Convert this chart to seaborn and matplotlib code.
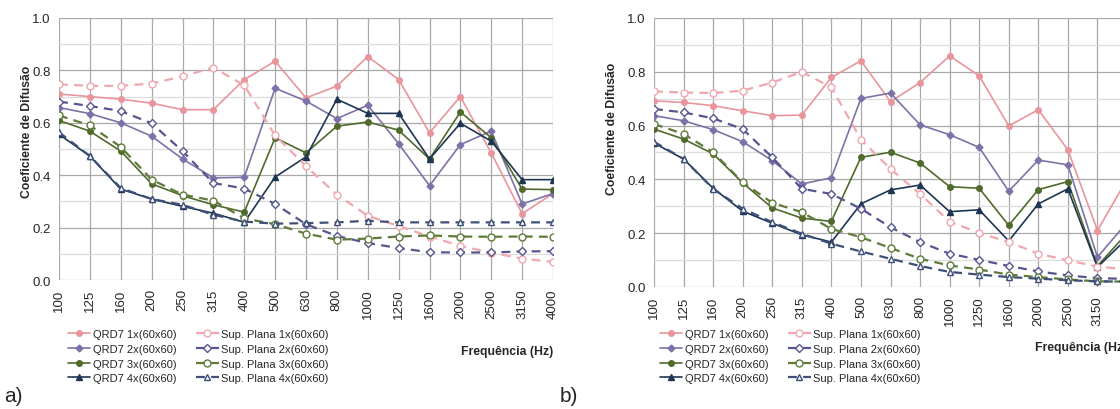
import numpy as np
import matplotlib.pyplot as plt
import seaborn as sns
from matplotlib.ticker import MultipleLocator

# Frequencies (third-octave bands)
freqs = ["100", "125", "160", "200", "250", "315", "400", "500", "630", "800",
         "1000", "1250", "1600", "2000", "2500", "3150", "4000"]

labels = ["QRD7 1x(60x60)", "QRD7 2x(60x60)", "QRD7 3x(60x60)", "QRD7 4x(60x60)",
          "Sup. Plana 1x(60x60)", "Sup. Plana 2x(60x60)", "Sup. Plana 3x(60x60)", "Sup. Plana 4x(60x60)"]

# panel a)
a_qrd1 = [0.71, 0.70, 0.69, 0.675, 0.65, 0.65, 0.765, 0.835, 0.695, 0.74, 0.853, 0.765, 0.562, 0.70, 0.485, 0.253, 0.33]
a_qrd2 = [0.658, 0.635, 0.60, 0.549, 0.462, 0.39, 0.392, 0.732, 0.683, 0.616, 0.667, 0.52, 0.36, 0.517, 0.568, 0.29, 0.33]
a_qrd3 = [0.609, 0.568, 0.492, 0.367, 0.322, 0.287, 0.259, 0.543, 0.485, 0.587, 0.603, 0.572, 0.462, 0.641, 0.543, 0.347, 0.345]
a_qrd4 = [0.556, 0.473, 0.347, 0.309, 0.281, 0.255, 0.22, 0.393, 0.47, 0.69, 0.636, 0.636, 0.462, 0.598, 0.53, 0.383, 0.383]
a_sup1 = [0.747, 0.741, 0.741, 0.75, 0.777, 0.811, 0.743, 0.552, 0.434, 0.326, 0.245, 0.206, 0.166, 0.13, 0.104, 0.082, 0.069]
a_sup2 = [0.681, 0.664, 0.645, 0.598, 0.492, 0.37, 0.349, 0.29, 0.213, 0.168, 0.141, 0.122, 0.106, 0.105, 0.105, 0.109, 0.11]
a_sup3 = [0.628, 0.59, 0.508, 0.383, 0.326, 0.303, 0.235, 0.213, 0.177, 0.154, 0.158, 0.166, 0.17, 0.166, 0.165, 0.166, 0.165]
a_sup4 = [0.564, 0.473, 0.351, 0.309, 0.287, 0.249, 0.223, 0.215, 0.217, 0.22, 0.226, 0.22, 0.22, 0.22, 0.22, 0.22, 0.22]

# panel b)
b_qrd1 = [0.692, 0.686, 0.674, 0.655, 0.637, 0.639, 0.779, 0.841, 0.689, 0.76, 0.859, 0.785, 0.599, 0.659, 0.51, 0.21, 0.40]
b_qrd2 = [0.637, 0.618, 0.585, 0.54, 0.47, 0.383, 0.406, 0.701, 0.721, 0.603, 0.566, 0.519, 0.356, 0.472, 0.454, 0.111, 0.24]
b_qrd3 = [0.587, 0.55, 0.495, 0.387, 0.294, 0.256, 0.244, 0.482, 0.501, 0.461, 0.373, 0.367, 0.229, 0.362, 0.392, 0.078, 0.20]
b_qrd4 = [0.535, 0.476, 0.367, 0.282, 0.237, 0.194, 0.167, 0.309, 0.361, 0.379, 0.28, 0.287, 0.171, 0.309, 0.365, 0.074, 0.18]
b_sup1 = [0.727, 0.723, 0.721, 0.73, 0.76, 0.80, 0.742, 0.548, 0.439, 0.346, 0.243, 0.201, 0.167, 0.124, 0.099, 0.076, 0.065]
b_sup2 = [0.662, 0.649, 0.627, 0.587, 0.482, 0.365, 0.346, 0.291, 0.222, 0.167, 0.124, 0.101, 0.078, 0.058, 0.043, 0.033, 0.03]
b_sup3 = [0.606, 0.569, 0.501, 0.389, 0.313, 0.278, 0.216, 0.185, 0.145, 0.105, 0.08, 0.065, 0.046, 0.037, 0.028, 0.021, 0.02]
b_sup4 = [0.54, 0.476, 0.365, 0.291, 0.241, 0.198, 0.161, 0.132, 0.105, 0.078, 0.056, 0.046, 0.037, 0.031, 0.025, 0.021, 0.02]

# color, marker, dashed, open marker
styles = [
    ("#E8959C", "o", False, False),
    ("#7D72A8", "D", False, False),
    ("#4F6A2C", "o", False, False),
    ("#1E3553", "^", False, False),
    ("#F0A8AE", "o", True, True),
    ("#55558F", "D", True, True),
    ("#5E7B3A", "o", True, True),
    ("#3E4F78", "^", True, True),
]

sns.set_style("white")
plt.rcParams['font.family'] = ['Liberation Sans', 'DejaVu Sans']

fig = plt.figure(figsize=(11.2, 4.1), dpi=100)
ax_a = fig.add_axes([59 / 1120, 1 - 281 / 410, 494 / 1120, 262 / 410])
# panel b runs past the right edge, as in the source image
ax_b = fig.add_axes([654 / 1120, 1 - 288 / 410, 473 / 1120, 269 / 410])


def draw(ax, series, ylab_x, ylab_y, xlab_y, leg_x):
    x = np.arange(len(freqs))
    for lab, vals, (color, marker, dashed, hollow) in zip(labels, series, styles):
        ms = 4 if marker != "D" else 3.5
        if hollow:
            ms = 5 if marker == "o" else 4
        sns.lineplot(x=x, y=vals, ax=ax, color=color, marker=marker,
                     linestyle=(0, (4, 2.8)) if dashed else "-",
                     lw=1.6 if dashed else 1.2, markersize=ms,
                     markeredgecolor=color, markeredgewidth=1,
                     markerfacecolor="white" if hollow else color,
                     label=lab)
    ax.set_xlim(0, len(freqs) - 1)
    ax.set_ylim(0, 1.0)
    ax.set_xticks(x)
    ax.set_xticklabels(freqs, rotation=90, fontsize=9.5)
    ax.yaxis.set_major_locator(MultipleLocator(0.2))
    ax.yaxis.set_minor_locator(MultipleLocator(0.1))
    ax.set_yticks(np.arange(0, 1.01, 0.2))
    ax.set_yticklabels([f"{v:.1f}" for v in np.arange(0, 1.01, 0.2)], fontsize=9.5)
    ax.grid(axis="x", color="#A8A8A8", lw=0.9)
    ax.grid(axis="y", which="major", color="#A8A8A8", lw=0.9)
    ax.grid(axis="y", which="minor", color="#DCDCDC", lw=0.9)
    ax.set_axisbelow(True)
    for s in ax.spines.values():
        s.set_visible(False)
    ax.tick_params(axis="both", which="major", length=4, color="#A8A8A8", pad=2)
    ax.tick_params(axis="y", which="minor", length=0)
    ax.set_ylabel("Coeficiente de Difusão", fontsize=8.8, fontweight="bold")
    ax.yaxis.set_label_coords(ylab_x, ylab_y)
    ax.set_xlabel("Frequência (Hz)", fontsize=8.8, fontweight="bold")
    ax.xaxis.label.set_ha("right")
    ax.xaxis.set_label_coords(1.0, xlab_y)
    ax.legend(ncol=2, loc="upper left", bbox_to_anchor=(leg_x, 0.2),
              bbox_transform=fig.transFigure, frameon=False, fontsize=8,
              handlelength=2.0, handletextpad=0.2, labelspacing=0.42,
              columnspacing=1.8, borderpad=0.2, borderaxespad=0)


draw(ax_a, [a_qrd1, a_qrd2, a_qrd3, a_qrd4, a_sup1, a_sup2, a_sup3, a_sup4],
     -0.053, 0.57, -0.248, 66 / 1120)
draw(ax_b, [b_qrd1, b_qrd2, b_qrd3, b_qrd4, b_sup1, b_sup2, b_sup3, b_sup4],
     -0.076, 0.59, -0.2, 658 / 1120)

fig.text(0.004, 0.02, "a)", fontsize=15)
fig.text(560 / 1120, 0.02, "b)", fontsize=15)

fig.savefig("out.png", dpi=100)
